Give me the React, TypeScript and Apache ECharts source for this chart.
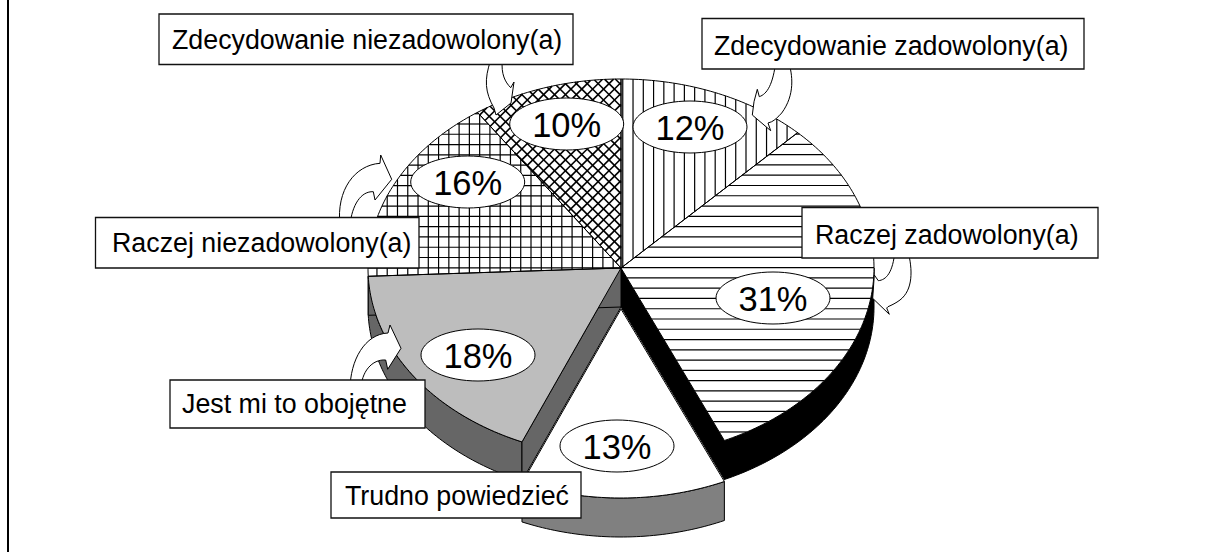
import React, { useEffect, useRef } from "react";
import * as echarts from "echarts";

// ---- data ----
const categories = [
  "Zdecydowanie zadowolony(a)",
  "Raczej zadowolony(a)",
  "Trudno powiedzieć",
  "Jest mi to obojętne",
  "Raczej niezadowolony(a)",
  "Zdecydowanie niezadowolony(a)",
];
const shares = [12.3, 31, 13.1, 17.9, 16.1, 9.6];

// ---- layout & style ----
const W = 1206;
const H = 552;
const CX = 621;
const CY = 268;
const RX = 253;
const RY = 189;
const DEPTH = 39;
const FONT = '"Liberation Sans", Arial, sans-serif';

type Hatch = { angles: number[]; gap: number; width: number; ref: [number, number] };
const sliceStyles: { fill: string; wall: string | null; explode: number; hatch: Hatch | null }[] = [
  { fill: "#fff", wall: null, explode: 0, hatch: { angles: [90], gap: 10.27, width: 1.2, ref: [643.3, 0] } },
  { fill: "#fff", wall: "#000", explode: 0, hatch: { angles: [0], gap: 10.27, width: 1.2, ref: [0, 216.3] } },
  { fill: "#fff", wall: "#808080", explode: 41, hatch: null },
  { fill: "#bdbdbd", wall: "#666", explode: 0, hatch: null },
  { fill: "#fff", wall: null, explode: 0, hatch: { angles: [0, 90], gap: 10.27, width: 1.2, ref: [428.3, 226.7] } },
  { fill: "#fff", wall: null, explode: 0, hatch: { angles: [45, -45], gap: 7.7, width: 1.6, ref: [560, 100] } },
];

const bubbleCenters: [number, number][] = [
  [690, 127],
  [773, 298],
  [617, 446],
  [478, 355],
  [467.7, 182],
  [566.7, 124],
];

const boxes: { x0: number; y0: number; x1: number; y1: number; tx: number; dy: number }[] = [
  { x0: 702, y0: 18.5, x1: 1084, y1: 69, tx: 714, dy: 2 },
  { x0: 802, y0: 207.5, x1: 1098, y1: 258, tx: 815, dy: 2 },
  { x0: 331, y0: 472, x1: 581, y1: 518, tx: 345, dy: 1 },
  { x0: 170, y0: 380, x1: 425, y1: 428, tx: 182, dy: 0 },
  { x0: 95.5, y0: 217.5, x1: 419, y1: 268, tx: 112, dy: 0 },
  { x0: 159, y0: 14, x1: 573, y1: 64.5, tx: 172, dy: 1 },
];

const arrowPaths = [
  "M788,60 C793,75 795,95 781.7,113 C778,117 775,120 771.7,121.7 L768,123 L770.7,130.7 L752.3,115 L754,101.7 L757.3,89.3 L759.3,96.7 C767,94 773,85 776,60 Z",
  "M907.7,250 C913,270 913,290 900,300 C896,303 892,305 888,306.7 L886.7,308 L889.3,314.3 L872.7,298.3 L874.3,275 L878.3,280.7 C886,280 893,273 895,250 Z",
  "M350,390 C350,360 365,334 388,333 L390,325 L401,348.3 L387.7,369.3 L385.7,360 C372,359 361,372 361,390 Z",
  "M340,225 C336,190 355,165 380,163.3 L380.7,155 L391.7,179.3 L375,200 L373.3,191.7 C361,191 352,205 350,225 Z",
  "M490.7,60 C484,80 485,92 494,108 L496,115 L511,103 L514,82 L510.7,87.7 C505,82 501,74 502.3,60 Z",
];
arrowPaths.forEach((d, i) => {
  echarts.graphic.registerShape("curvedArrow" + i, echarts.graphic.extendPath(d, {}));
});

// ---- geometry from values ----
const edges: number[] = [];
shares.reduce((acc, v) => {
  edges.push(acc);
  return acc + v;
}, 0);
const total = shares.reduce((a, b) => a + b, 0);
const toDeg = (v: number) => (v / total) * 360;

function rimPoint(deg: number, dy: number): [number, number] {
  const r = (deg * Math.PI) / 180;
  return [CX + RX * Math.sin(r), CY + dy - RY * Math.cos(r)];
}
function arcPoints(a0: number, a1: number, dy: number): [number, number][] {
  const pts: [number, number][] = [];
  const n = Math.max(2, Math.ceil(a1 - a0));
  for (let i = 0; i <= n; i++) pts.push(rimPoint(a0 + ((a1 - a0) * i) / n, dy));
  return pts;
}

function hatchLines(poly: [number, number][], h: Hatch, z2: number) {
  const out: any[] = [];
  for (const ang of h.angles) {
    const r = (ang * Math.PI) / 180;
    const c = Math.cos(r);
    const s = Math.sin(r);
    // rotated frame: u along the hatch direction, w across it
    const rot = poly.map(([x, y]) => [x * c + y * s, -x * s + y * c]);
    const wRef = -h.ref[0] * s + h.ref[1] * c;
    const ws = rot.map((p) => p[1]);
    const kMin = Math.floor((Math.min(...ws) - wRef) / h.gap);
    const kMax = Math.ceil((Math.max(...ws) - wRef) / h.gap);
    for (let k = kMin; k <= kMax; k++) {
      const w = wRef + k * h.gap;
      const xs: number[] = [];
      for (let i = 0; i < rot.length; i++) {
        const a = rot[i];
        const b = rot[(i + 1) % rot.length];
        if (a[1] <= w !== b[1] <= w) {
          xs.push(a[0] + ((w - a[1]) / (b[1] - a[1])) * (b[0] - a[0]));
        }
      }
      xs.sort((p, q) => p - q);
      for (let i = 0; i + 1 < xs.length; i += 2) {
        out.push({
          type: "line",
          z2,
          shape: {
            x1: xs[i] * c - w * s,
            y1: xs[i] * s + w * c,
            x2: xs[i + 1] * c - w * s,
            y2: xs[i + 1] * s + w * c,
          },
          style: { stroke: "#000", lineWidth: h.width, fill: null },
        });
      }
    }
  }
  return out;
}

function renderSlice(params: any, api: any) {
  const i = params.dataIndex;
  const st = sliceStyles[i];
  const a0 = toDeg(edges[i]);
  const a1 = a0 + toDeg(api.value(0));
  const base = st.explode ? 3 : 1;
  const apex: [number, number] = [CX, CY + st.explode];
  const children: any[] = [];
  const edgeStyle = { stroke: "#000", lineWidth: 1 };

  if (st.wall) {
    const w0 = Math.max(a0, 90);
    const w1 = Math.min(a1, 270);
    const top = arcPoints(w0, w1, st.explode);
    const bottom = arcPoints(w0, w1, st.explode + DEPTH).reverse();
    children.push({
      type: "polygon",
      z2: base,
      shape: { points: [...top, ...bottom] },
      style: { fill: st.wall, ...edgeStyle },
    });
    if (!st.explode) {
      for (const a of [a0, a1]) {
        const rim = rimPoint(a, 0);
        children.push({
          type: "polygon",
          z2: base,
          shape: {
            points: [apex, rim, [rim[0], rim[1] + DEPTH], [apex[0], apex[1] + DEPTH]],
          },
          style: { fill: st.wall, ...edgeStyle },
        });
      }
    }
  }

  const face: [number, number][] = [apex, ...arcPoints(a0, a1, st.explode)];
  children.push({
    type: "polygon",
    z2: base + 1,
    shape: { points: face },
    style: { fill: st.fill, stroke: null },
  });
  if (st.hatch) children.push(...hatchLines(face, st.hatch, base + 1.1));
  children.push({
    type: "polygon",
    z2: base + 1.2,
    shape: { points: face },
    style: { fill: null, ...edgeStyle },
  });
  return { type: "group", children };
}

function buildGraphic() {
  const g: any[] = [
    {
      type: "line",
      z: 5,
      shape: { x1: 8, y1: 0, x2: 8, y2: H },
      style: { stroke: "#000", lineWidth: 2 },
    },
  ];
  arrowPaths.forEach((_, i) => {
    g.push({
      type: "curvedArrow" + i,
      z: 100,
      x: 0,
      y: 0,
      style: { fill: "#fff", stroke: "#000", lineWidth: 1 },
    });
  });
  shares.forEach((v, i) => {
    const [x, y] = bubbleCenters[i];
    g.push({
      type: "ellipse",
      z: 110,
      shape: { cx: x, cy: y, rx: 57, ry: 26 },
      style: { fill: "#fff", stroke: "#000", lineWidth: 1 },
    });
    g.push({
      type: "text",
      z: 111,
      x,
      y: y + 1,
      style: {
        text: Math.round(v) + "%",
        font: `34.5px ${FONT}`,
        fill: "#000",
        align: "center",
        verticalAlign: "middle",
      },
    });
  });
  boxes.forEach((b, i) => {
    g.push({
      type: "rect",
      z: 120,
      shape: { x: b.x0, y: b.y0, width: b.x1 - b.x0, height: b.y1 - b.y0 },
      style: { fill: "#fff", stroke: "#111", lineWidth: 1.3 },
    });
    g.push({
      type: "text",
      z: 121,
      x: b.tx,
      y: (b.y0 + b.y1) / 2 + b.dy,
      style: {
        text: categories[i],
        font: `26.8px ${FONT}`,
        fill: "#000",
        align: "left",
        verticalAlign: "middle",
      },
    });
  });
  return g;
}

export default function App() {
  const ref = useRef<HTMLDivElement>(null);
  useEffect(() => {
    document.body.style.margin = "0";
    const chart = echarts.init(ref.current!, undefined, { renderer: "svg" });
    chart.setOption({
      animation: false,
      backgroundColor: "#fff",
      series: [
        {
          type: "custom",
          coordinateSystem: "none",
          silent: true,
          clip: false,
          data: shares,
          renderItem: renderSlice,
        },
      ],
      graphic: { elements: buildGraphic() },
    });
    return () => chart.dispose();
  }, []);
  return <div ref={ref} style={{ width: W, height: H }} />;
}
